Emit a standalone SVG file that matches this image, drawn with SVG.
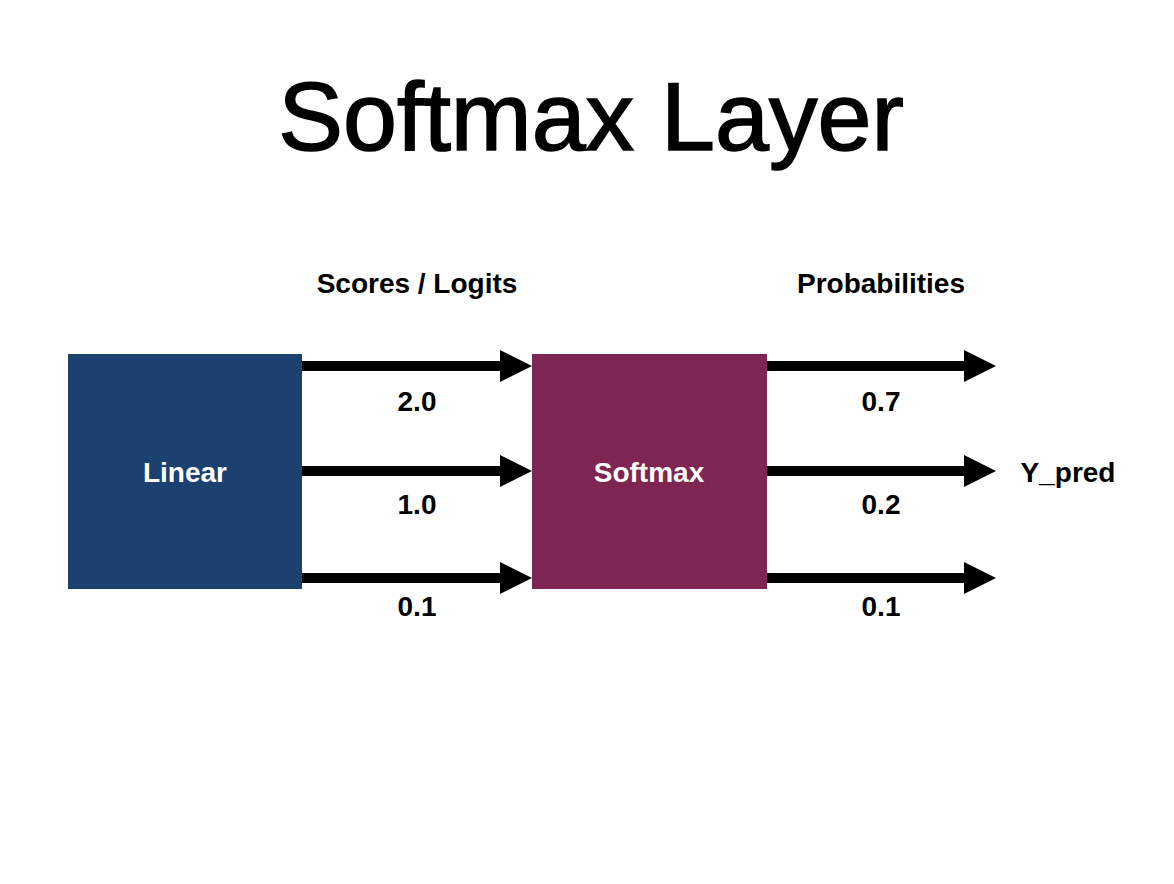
<svg xmlns="http://www.w3.org/2000/svg" width="1174" height="884" viewBox="0 0 1174 884">
  <style>
    text { font-family: "Liberation Sans", Arial, Helvetica, sans-serif; }
    .title { font-size: 97px; fill: #000; stroke: #000; stroke-width: 1.6; }
    .lbl { font-size: 28px; font-weight: bold; fill: #000; text-anchor: middle; }
    .nodelbl { font-size: 28px; font-weight: bold; fill: #fff; text-anchor: middle; }
    .arrow { stroke: #000; stroke-width: 10; fill: none; marker-end: url(#head); }
  </style>
  <defs>
    <marker id="head" markerUnits="userSpaceOnUse" markerWidth="32" markerHeight="32" refX="0" refY="16" orient="auto">
      <path d="M0,0 L32,16 L0,32 Z" fill="#000"/>
    </marker>
  </defs>
  <rect width="1174" height="884" fill="#fff"/>
  <text class="title" x="591" y="150" text-anchor="middle">Softmax Layer</text>
  <text class="lbl" x="417" y="293">Scores / Logits</text>
  <text class="lbl" x="881" y="293">Probabilities</text>

  <g id="node-linear">
    <rect x="68" y="354" width="234" height="235" fill="#1a416f"/>
    <text class="nodelbl" x="185" y="482">Linear</text>
  </g>
  <g id="node-softmax">
    <rect x="532" y="354" width="235" height="235" fill="#7e2551"/>
    <text class="nodelbl" x="649" y="482">Softmax</text>
  </g>

  <g id="connectors">
    <line class="arrow" x1="302" y1="366" x2="500" y2="366"/>
    <line class="arrow" x1="302" y1="471" x2="500" y2="471"/>
    <line class="arrow" x1="302" y1="578" x2="500" y2="578"/>
    <line class="arrow" x1="767" y1="366" x2="964" y2="366"/>
    <line class="arrow" x1="767" y1="471" x2="964" y2="471"/>
    <line class="arrow" x1="767" y1="578" x2="964" y2="578"/>
  </g>

  <g id="labels">
    <text class="lbl" x="417" y="411">2.0</text>
    <text class="lbl" x="417" y="514">1.0</text>
    <text class="lbl" x="417" y="616">0.1</text>
    <text class="lbl" x="881" y="411">0.7</text>
    <text class="lbl" x="881" y="514">0.2</text>
    <text class="lbl" x="881" y="616">0.1</text>
    <text class="lbl" x="1068" y="482">Y_pred</text>
  </g>
</svg>
